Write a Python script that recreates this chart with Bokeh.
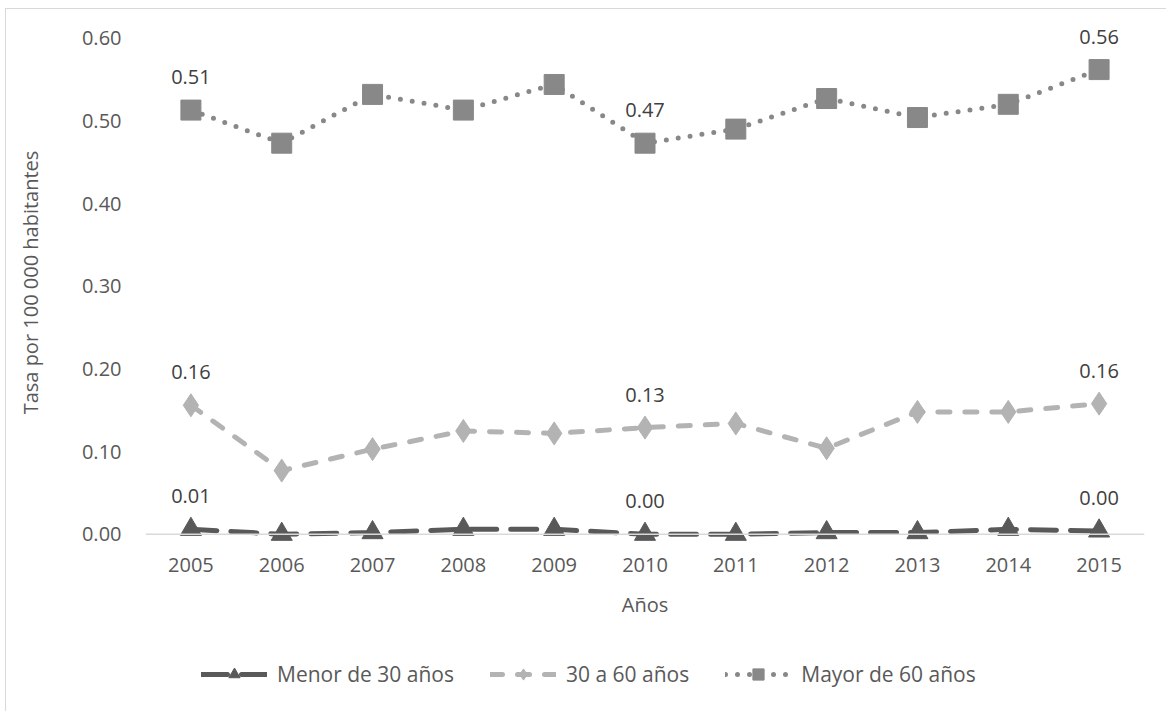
from bokeh.plotting import figure
from bokeh.layouts import column
from bokeh.models import Range1d, FixedTicker, Span, Legend, LegendItem, ColumnDataSource, CustomJSTickFormatter
from bokeh.core.properties import value
from bokeh.embed import file_html
from bokeh.resources import INLINE

years = [2005, 2006, 2007, 2008, 2009, 2010, 2011, 2012, 2013, 2014, 2015]
menor_30 = [0.006, 0.000, 0.002, 0.006, 0.006, 0.000, 0.000, 0.002, 0.002, 0.006, 0.004]
de_30_a_60 = [0.156, 0.077, 0.103, 0.125, 0.122, 0.129, 0.134, 0.104, 0.148, 0.148, 0.158]
mayor_60 = [0.513, 0.473, 0.532, 0.513, 0.544, 0.473, 0.490, 0.527, 0.504, 0.520, 0.562]
labelled_years = [2005, 2010, 2015]
y_ticks = [0.0, 0.1, 0.2, 0.3, 0.4, 0.5, 0.6]
series_names = ["Menor de 30 años", "30 a 60 años", "Mayor de 60 años"]

FONT = "Open Sans"
TXT = "#595959"

STYLES = [
    dict(color="#595959", dash="26 14", marker="triangle", size=21),
    dict(color="#b3b3b3", dash="12 15", marker="diamond", size=23),
    dict(color="#888888", dash="0 12", marker="square", size=20),
]

src = ColumnDataSource(dict(x=years, a=menor_30, b=de_30_a_60, c=mayor_60))

p = figure(width=1160, height=641, output_backend="svg", toolbar_location=None,
           x_range=Range1d(2004.5, 2015.5), y_range=Range1d(-0.016, 0.625),
           min_border_left=139, min_border_right=22, min_border_top=8, min_border_bottom=103)
p.outline_line_color = None
p.xgrid.grid_line_color = None
p.ygrid.grid_line_color = None
p.background_fill_color = "white"
p.border_fill_color = "white"

# axes
p.xaxis.ticker = FixedTicker(ticks=years)
p.xaxis.formatter = CustomJSTickFormatter(code="return tick.toFixed(0)")
p.yaxis.ticker = FixedTicker(ticks=y_ticks)
p.yaxis.formatter = CustomJSTickFormatter(code="return tick.toFixed(2)")
for ax in (p.xaxis[0], p.yaxis[0]):
    ax.axis_line_color = None
    ax.major_tick_line_color = None
    ax.minor_tick_line_color = None
    ax.major_label_text_font = FONT
    ax.major_label_text_font_size = "20px"
    ax.major_label_text_color = TXT
    ax.axis_label_text_font = FONT
    ax.axis_label_text_font_size = "20px"
    ax.axis_label_text_color = TXT
    ax.axis_label_text_font_style = "normal"
p.xaxis.axis_label = "Años"
p.yaxis.axis_label = "Tasa por 100 000 habitantes"
p.xaxis.major_label_standoff = 4
p.xaxis.axis_label_standoff = 16
p.yaxis.major_label_standoff = 18
p.yaxis.axis_label_standoff = 35

p.add_layout(Span(location=0, dimension="width", line_color="#d9d9d9", line_width=1.5))


def draw_series(fig, col, st):
    r_line = fig.line("x", col, source=src, line_color=st["color"], line_width=5,
                      line_dash=st["dash"], line_cap="round")
    r_mark = fig.scatter("x", col, source=src, marker=st["marker"], size=st["size"],
                         fill_color=st["color"], line_color=st["color"])
    return r_line, r_mark


for col, st in zip(["a", "b", "c"], STYLES):
    draw_series(p, col, st)

# value labels for first, middle and last year
for series in (menor_30, de_30_a_60, mayor_60):
    ly = [series[years.index(y)] for y in labelled_years]
    lt = [f"{v:.2f}" for v in ly]
    p.text(x=labelled_years, y=ly, text=lt, text_font=value(FONT), text_font_size="20px", text_color="#404040",
           text_align="center", text_baseline="middle", y_offset=-33)

# legend strip underneath the chart (its own series sit outside its view, only the key shows)
lg = figure(width=1160, height=61, output_backend="svg", toolbar_location=None,
            x_range=Range1d(0, 1), y_range=Range1d(5, 6),
            min_border_left=0, min_border_right=0, min_border_top=0, min_border_bottom=0)
lg.axis.visible = False
lg.grid.visible = False
lg.outline_line_color = None
lg.background_fill_color = "white"
lg.border_fill_color = "white"

items = []
for name, col, st in zip(series_names, ["a", "b", "c"], STYLES):
    items.append(LegendItem(label=name, renderers=list(draw_series(lg, col, st))))

legend = Legend(items=items, orientation="horizontal", location=(56, 23))
legend.label_text_font = FONT
legend.label_text_font_size = "21px"
legend.label_text_color = TXT
legend.glyph_width = 66
legend.glyph_height = 28
legend.spacing = 36
legend.label_standoff = 10
legend.border_line_color = None
legend.background_fill_alpha = 0
legend.margin = 0
legend.padding = 4
lg.add_layout(legend)

layout = column(p, lg, spacing=0,
                styles={"margin-left": "5px", "margin-top": "8px",
                        "border-left": "1px solid #d9d9d9", "border-top": "1px solid #d9d9d9"})

open("out.html", "w").write(file_html(layout, INLINE))
